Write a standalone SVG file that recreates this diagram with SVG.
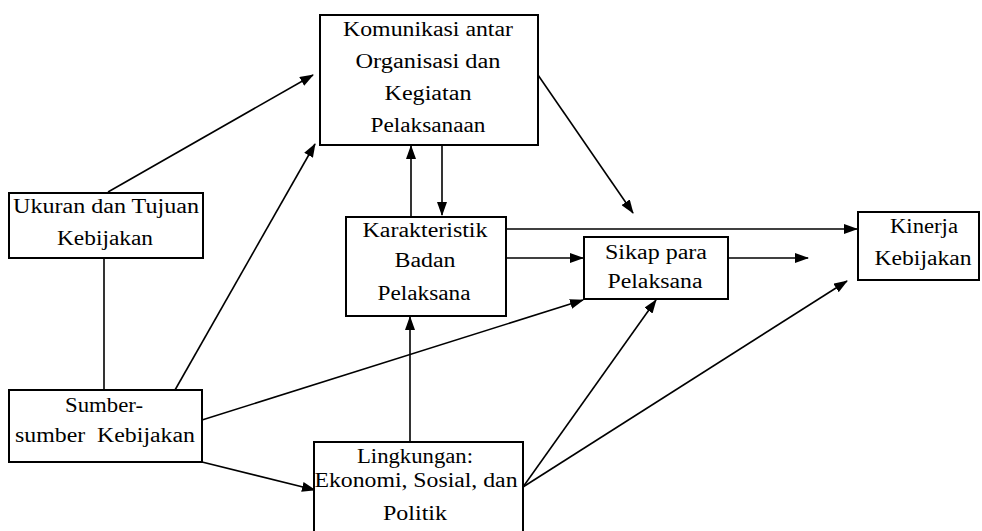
<svg xmlns="http://www.w3.org/2000/svg" width="982" height="531" viewBox="0 0 982 531" font-family="Liberation Serif">
<style>
.box{fill:#fff;stroke:#000;stroke-width:2}
.t{font-size:20px;fill:#000;text-anchor:middle}
.c{stroke:#000;stroke-width:1.6;fill:none}
</style>
<defs>
<marker id="ah" viewBox="0 0 14 10" refX="13" refY="5" markerWidth="14" markerHeight="10" markerUnits="userSpaceOnUse" orient="auto">
<path d="M0,0 L14,5 L0,10 z" fill="#000"/>
</marker>
</defs>
<rect width="982" height="531" fill="#fff"/>
<g id="connectors">
<line class="c" x1="104" y1="258" x2="104" y2="390"/>
<line class="c" x1="108" y1="192" x2="313" y2="75" marker-end="url(#ah)"/>
<line class="c" x1="175" y1="390" x2="315" y2="144" marker-end="url(#ah)"/>
<line class="c" x1="202" y1="420" x2="583" y2="300" marker-end="url(#ah)"/>
<line class="c" x1="202" y1="462" x2="315" y2="490" marker-end="url(#ah)"/>
<line class="c" x1="410" y1="442" x2="410" y2="317" marker-end="url(#ah)"/>
<line class="c" x1="411" y1="217" x2="411" y2="146" marker-end="url(#ah)"/>
<line class="c" x1="442" y1="145" x2="442" y2="215" marker-end="url(#ah)"/>
<line class="c" x1="538" y1="75" x2="633" y2="213" marker-end="url(#ah)"/>
<line class="c" x1="506" y1="229" x2="857" y2="229" marker-end="url(#ah)"/>
<line class="c" x1="506" y1="258" x2="583" y2="258" marker-end="url(#ah)"/>
<line class="c" x1="728" y1="258" x2="808" y2="258" marker-end="url(#ah)"/>
<line class="c" x1="523" y1="487" x2="656" y2="300" marker-end="url(#ah)"/>
<line class="c" x1="523" y1="487" x2="847" y2="281" marker-end="url(#ah)"/>
</g>
<g id="komunikasi" font-family="Liberation Serif, serif">
<rect class="box" x="320" y="15" width="218" height="130"/>
<text class="t" x="428" y="36" textLength="170" lengthAdjust="spacingAndGlyphs">Komunikasi antar</text>
<text class="t" x="428" y="68" textLength="145" lengthAdjust="spacingAndGlyphs">Organisasi dan</text>
<text class="t" x="428" y="100" textLength="87" lengthAdjust="spacingAndGlyphs">Kegiatan</text>
<text class="t" x="428" y="132" textLength="115" lengthAdjust="spacingAndGlyphs">Pelaksanaan</text>
</g>
<g id="ukuran" font-family="Liberation Serif, serif">
<rect class="box" x="9" y="193" width="194" height="65"/>
<text class="t" x="106" y="213" textLength="186" lengthAdjust="spacingAndGlyphs">Ukuran dan Tujuan</text>
<text class="t" x="105" y="245" textLength="96" lengthAdjust="spacingAndGlyphs">Kebijakan</text>
</g>
<g id="sumber" font-family="Liberation Serif, serif">
<rect class="box" x="9" y="390" width="193" height="72"/>
<text class="t" x="104" y="412" textLength="78" lengthAdjust="spacingAndGlyphs">Sumber-</text>
<text class="t" x="105" y="442" textLength="180" lengthAdjust="spacingAndGlyphs" xml:space="preserve">sumber  Kebijakan</text>
</g>
<g id="karakteristik" font-family="Liberation Serif, serif">
<rect class="box" x="346" y="217" width="160" height="99"/>
<text class="t" x="425" y="237" textLength="125" lengthAdjust="spacingAndGlyphs">Karakteristik</text>
<text class="t" x="425" y="267" textLength="61" lengthAdjust="spacingAndGlyphs">Badan</text>
<text class="t" x="424" y="300" textLength="93" lengthAdjust="spacingAndGlyphs">Pelaksana</text>
</g>
<g id="sikap" font-family="Liberation Serif, serif">
<rect class="box" x="584" y="237" width="144" height="62"/>
<text class="t" x="656" y="259" textLength="102" lengthAdjust="spacingAndGlyphs">Sikap para</text>
<text class="t" x="655" y="288" textLength="95" lengthAdjust="spacingAndGlyphs">Pelaksana</text>
</g>
<g id="kinerja" font-family="Liberation Serif, serif">
<rect class="box" x="858" y="212" width="121" height="68"/>
<text class="t" x="924" y="233" textLength="68" lengthAdjust="spacingAndGlyphs">Kinerja</text>
<text class="t" x="923" y="265" textLength="97" lengthAdjust="spacingAndGlyphs">Kebijakan</text>
</g>
<g id="lingkungan" font-family="Liberation Serif, serif">
<rect class="box" x="314" y="442" width="209" height="100"/>
<text class="t" x="415" y="463" textLength="116" lengthAdjust="spacingAndGlyphs">Lingkungan:</text>
<text class="t" x="416" y="487" textLength="203" lengthAdjust="spacingAndGlyphs">Ekonomi, Sosial, dan</text>
<text class="t" x="415" y="520" textLength="64" lengthAdjust="spacingAndGlyphs">Politik</text>
</g>
</svg>
